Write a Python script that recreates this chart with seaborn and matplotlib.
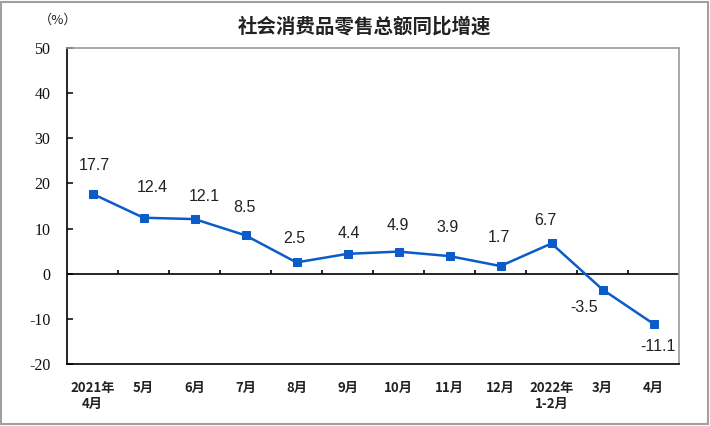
import numpy as np
import pandas as pd
import matplotlib
matplotlib.use("Agg")
import matplotlib.pyplot as plt
import seaborn as sns
from matplotlib.patches import Rectangle

months = ["2021年\n4月", "5月", "6月", "7月", "8月", "9月", "10月", "11月", "12月",
          "2022年\n1-2月", "3月", "4月"]
growth = [17.7, 12.4, 12.1, 8.5, 2.5, 4.4, 4.9, 3.9, 1.7, 6.7, -3.5, -11.1]
y_ticks = [-20, -10, 0, 10, 20, 30, 40, 50]
title = "社会消费品零售总额同比增速"
unit = "（%）"
# data-label offsets in pixels (dx, dy)
label_offsets = [(2, 28), (9, 30), (10, 23), (-1, 28), (-2, 24), (1, 20), (-1, 26),
                 (-2, 29), (-2, 29), (-6, 23), (-18, -18), (4, -23)]

sns.set_theme(style="white")
plt.rcParams['font.family'] = ['Noto Sans CJK SC', 'DejaVu Sans']

W, H = 710, 426
fig = plt.figure(figsize=(W / 100, H / 100), dpi=100)
ax = fig.add_axes([67 / W, 1 - 364 / H, (679 - 67) / W, (364 - 48) / H])

df = pd.DataFrame({"idx": np.arange(len(months)), "growth": growth})
line_color = "#0B5CC8"
sns.lineplot(data=df, x="idx", y="growth", ax=ax, color=line_color, lw=1.8,
             marker="s", markersize=5.2, markeredgecolor=line_color,
             markerfacecolor=line_color)

ax.set_xlim(-0.5, len(months) - 0.5)
ax.set_ylim(min(y_ticks), max(y_ticks))
ax.set_xlabel("")
ax.set_ylabel("")

# zero line with category-boundary ticks
ax.axhline(0, color="black", lw=1.2, zorder=1)
bounds = np.arange(len(months) - 1) + 0.5
ax.vlines(bounds, 0, 0.9, color="black", lw=1.2, zorder=1)

ax.set_yticks(y_ticks)
ax.set_yticklabels([str(v) for v in y_ticks], family=["Liberation Serif"], fontsize=11.5,
                   color="#111111")
ax.tick_params(axis="y", direction="in", length=4, width=1.1, pad=12, color="black", left=True)

ax.set_xticks(df["idx"])
ax.set_xticklabels(months, fontsize=9.5, fontweight="bold", color="#222222", linespacing=1.25)
for lbl in ax.get_xticklabels():
    lbl.set_multialignment("center")
ax.tick_params(axis="x", length=0, pad=12)

for s in ["left", "bottom"]:
    ax.spines[s].set_color("black")
    ax.spines[s].set_linewidth(1.2)
for s in ["top", "right"]:
    ax.spines[s].set_color("#999999")
    ax.spines[s].set_linewidth(1.2)

for i, v in enumerate(growth):
    dx, dy = label_offsets[i]
    ax.annotate(f"{v}", (i, v), xytext=(dx, dy), textcoords="offset pixels",
                ha="center", va="center", fontsize=11.5,
                family=["Liberation Sans"], color="#222222")

fig.text(365 / W, 1 - 27 / H, title, ha="center", va="center", fontsize=14,
         fontweight="bold", color="#222222")
fig.text(58 / W, 1 - 20 / H, unit, ha="center", va="center", fontsize=9.5,
         color="#222222")

fig.patches.append(Rectangle((1 / W, 2 / H), 707 / W, 422 / H, transform=fig.transFigure,
                             fill=False, ec="#a0a0a0", lw=1.5))

fig.savefig("out.png", dpi=100)
